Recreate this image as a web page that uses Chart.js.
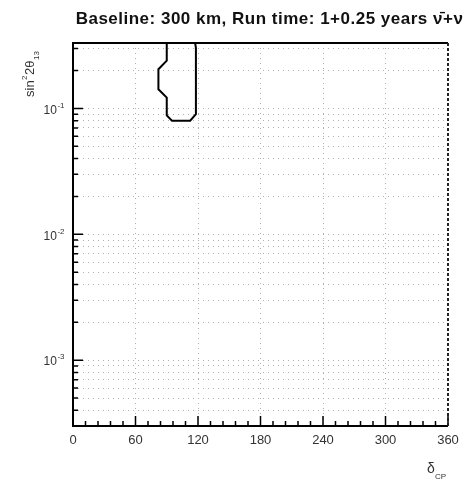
<!DOCTYPE html>
<html>
<head>
<meta charset="utf-8">
<script src="https://cdn.jsdelivr.net/npm/chart.js@4/dist/chart.umd.min.js"></script>
<style>
  html, body { margin: 0; padding: 0; background: #fff; }
  #wrap { width: 469px; height: 484px; position: relative; }
</style>
</head>
<body>
<div id="wrap"><canvas id="c"></canvas></div>
<script>
  // contour: delta_CP (deg) vs sin^2 2theta13
  const contourDelta = [90, 90, 82, 82, 90, 90, 95, 112.5, 118, 118, 117];
  const contourSin = [0.34, 0.24, 0.205, 0.142, 0.122, 0.088, 0.080, 0.080, 0.090, 0.303, 0.34];

  const xTicks = [0, 60, 120, 180, 240, 300, 360];
  const yDecades = [1e-3, 1e-2, 1e-1];
  const yDecadeLabels = ["-3", "-2", "-1"];
  const yMin = Math.pow(10, -3.5);
  const yMax = Math.pow(10, -0.48);

  const TITLE = "Baseline: 300 km, Run time: 1+0.25 years \u03BD\u0304+\u03BD";
  const FONT = "'Liberation Sans', Arial, sans-serif";

  function minorValues() {
    const out = [];
    for (let e = -4; e <= 0; e++) {
      for (let m = 1; m <= 9; m++) {
        const v = m * Math.pow(10, e);
        if (v >= yMin && v <= yMax) out.push(v);
      }
    }
    return out;
  }

  const rootStyle = {
    id: "rootStyle",
    afterDraw(chart) {
      const ctx = chart.ctx;
      const a = chart.chartArea;
      const xs = chart.scales.x;
      const ys = chart.scales.y;
      ctx.save();

      // tick marks pointing inwards
      ctx.strokeStyle = "#000";
      ctx.lineWidth = 1.5;
      ctx.beginPath();
      for (let v = 0; v <= 360; v += 12) {
        const px = xs.getPixelForValue(v);
        const len = v % 60 === 0 ? 10 : 5;
        ctx.moveTo(px, a.bottom);
        ctx.lineTo(px, a.bottom - len);
      }
      minorValues().forEach((v) => {
        const py = ys.getPixelForValue(v);
        const isDecade = Math.abs(Math.log10(v) - Math.round(Math.log10(v))) < 1e-6;
        ctx.moveTo(a.left, py);
        ctx.lineTo(a.left + (isDecade ? 10 : 5), py);
      });
      ctx.stroke();

      // frame
      ctx.lineWidth = 2;
      ctx.beginPath();
      ctx.moveTo(a.right, a.top);
      ctx.lineTo(a.left, a.top);
      ctx.lineTo(a.left, a.bottom);
      ctx.lineTo(a.right, a.bottom);
      ctx.stroke();
      ctx.setLineDash([3, 2]);
      ctx.strokeStyle = "#222";
      ctx.beginPath();
      ctx.moveTo(a.right, a.top);
      ctx.lineTo(a.right, a.bottom);
      ctx.stroke();
      ctx.setLineDash([]);

      // y decade labels
      ctx.fillStyle = "#333";
      ctx.textBaseline = "middle";
      yDecades.forEach((v, i) => {
        const py = ys.getPixelForValue(v) + 2;
        ctx.font = "12px " + FONT;
        ctx.textAlign = "left";
        const w = ctx.measureText("10").width;
        ctx.font = "8px " + FONT;
        const we = ctx.measureText(yDecadeLabels[i]).width;
        const x0 = 64 - we - w;
        ctx.font = "12px " + FONT;
        ctx.fillText("10", x0, py);
        ctx.font = "8px " + FONT;
        ctx.fillText(yDecadeLabels[i], x0 + w + 0.5, py - 5);
      });

      // title
      ctx.fillStyle = "#111";
      ctx.font = "bold 17px " + FONT;
      ctx.letterSpacing = "0.5px";
      ctx.textAlign = "center";
      ctx.fillText(TITLE, 269.5, 19);
      ctx.letterSpacing = "0px";

      // x axis title
      ctx.fillStyle = "#333";
      ctx.textAlign = "left";
      ctx.font = "14px " + FONT;
      ctx.fillText("\u03B4", 427, 469);
      ctx.font = "8px " + FONT;
      ctx.fillText("CP", 435, 477);

      // y axis title, rotated
      ctx.translate(34, 97);
      ctx.rotate(-Math.PI / 2);
      ctx.textBaseline = "alphabetic";
      ctx.font = "13px " + FONT;
      let x = 0;
      ctx.fillText("sin", x, 0);
      x += ctx.measureText("sin").width + 0.5;
      ctx.font = "8px " + FONT;
      ctx.fillText("2", x, -7);
      x += ctx.measureText("2").width + 0.5;
      ctx.font = "13px " + FONT;
      ctx.fillText("2\u03B8", x, 0);
      x += ctx.measureText("2\u03B8").width + 0.5;
      ctx.font = "8px " + FONT;
      ctx.fillText("13", x, 5);

      ctx.restore();
    },
  };

  new Chart(document.getElementById("c"), {
    type: "scatter",
    data: {
      datasets: [
        {
          data: contourDelta.map((d, i) => ({ x: d, y: contourSin[i] })),
          showLine: true,
          borderColor: "#000",
          borderWidth: 2,
          pointRadius: 0,
          tension: 0,
          fill: false,
        },
      ],
    },
    options: {
      responsive: true,
      maintainAspectRatio: false,
      animation: false,
      events: [],
      layout: { padding: { left: 0, right: 21, top: 43, bottom: 0 } },
      plugins: { legend: { display: false }, tooltip: { enabled: false }, title: { display: false } },
      scales: {
        x: {
          type: "linear",
          min: 0,
          max: 360,
          afterBuildTicks: (s) => { s.ticks = xTicks.map((v) => ({ value: v })); },
          afterFit: (s) => { s.height = 58; },
          ticks: {
            padding: 7,
            color: "#333",
            font: { family: FONT, size: 13 },
            maxRotation: 0,
            autoSkip: false,
          },
          grid: { color: "#b0b0b0", lineWidth: 1, drawTicks: false },
          border: { display: false, dash: [1, 4] },
        },
        y: {
          type: "logarithmic",
          min: yMin,
          max: yMax,
          afterBuildTicks: (s) => { s.ticks = minorValues().map((v) => ({ value: v })); },
          afterFit: (s) => { s.width = 73; },
          ticks: { callback: () => "", autoSkip: false },
          grid: { color: "#b0b0b0", lineWidth: 1, drawTicks: false },
          border: { display: false, dash: [1, 4] },
        },
      },
    },
    plugins: [rootStyle],
  });
</script>
</body>
</html>
